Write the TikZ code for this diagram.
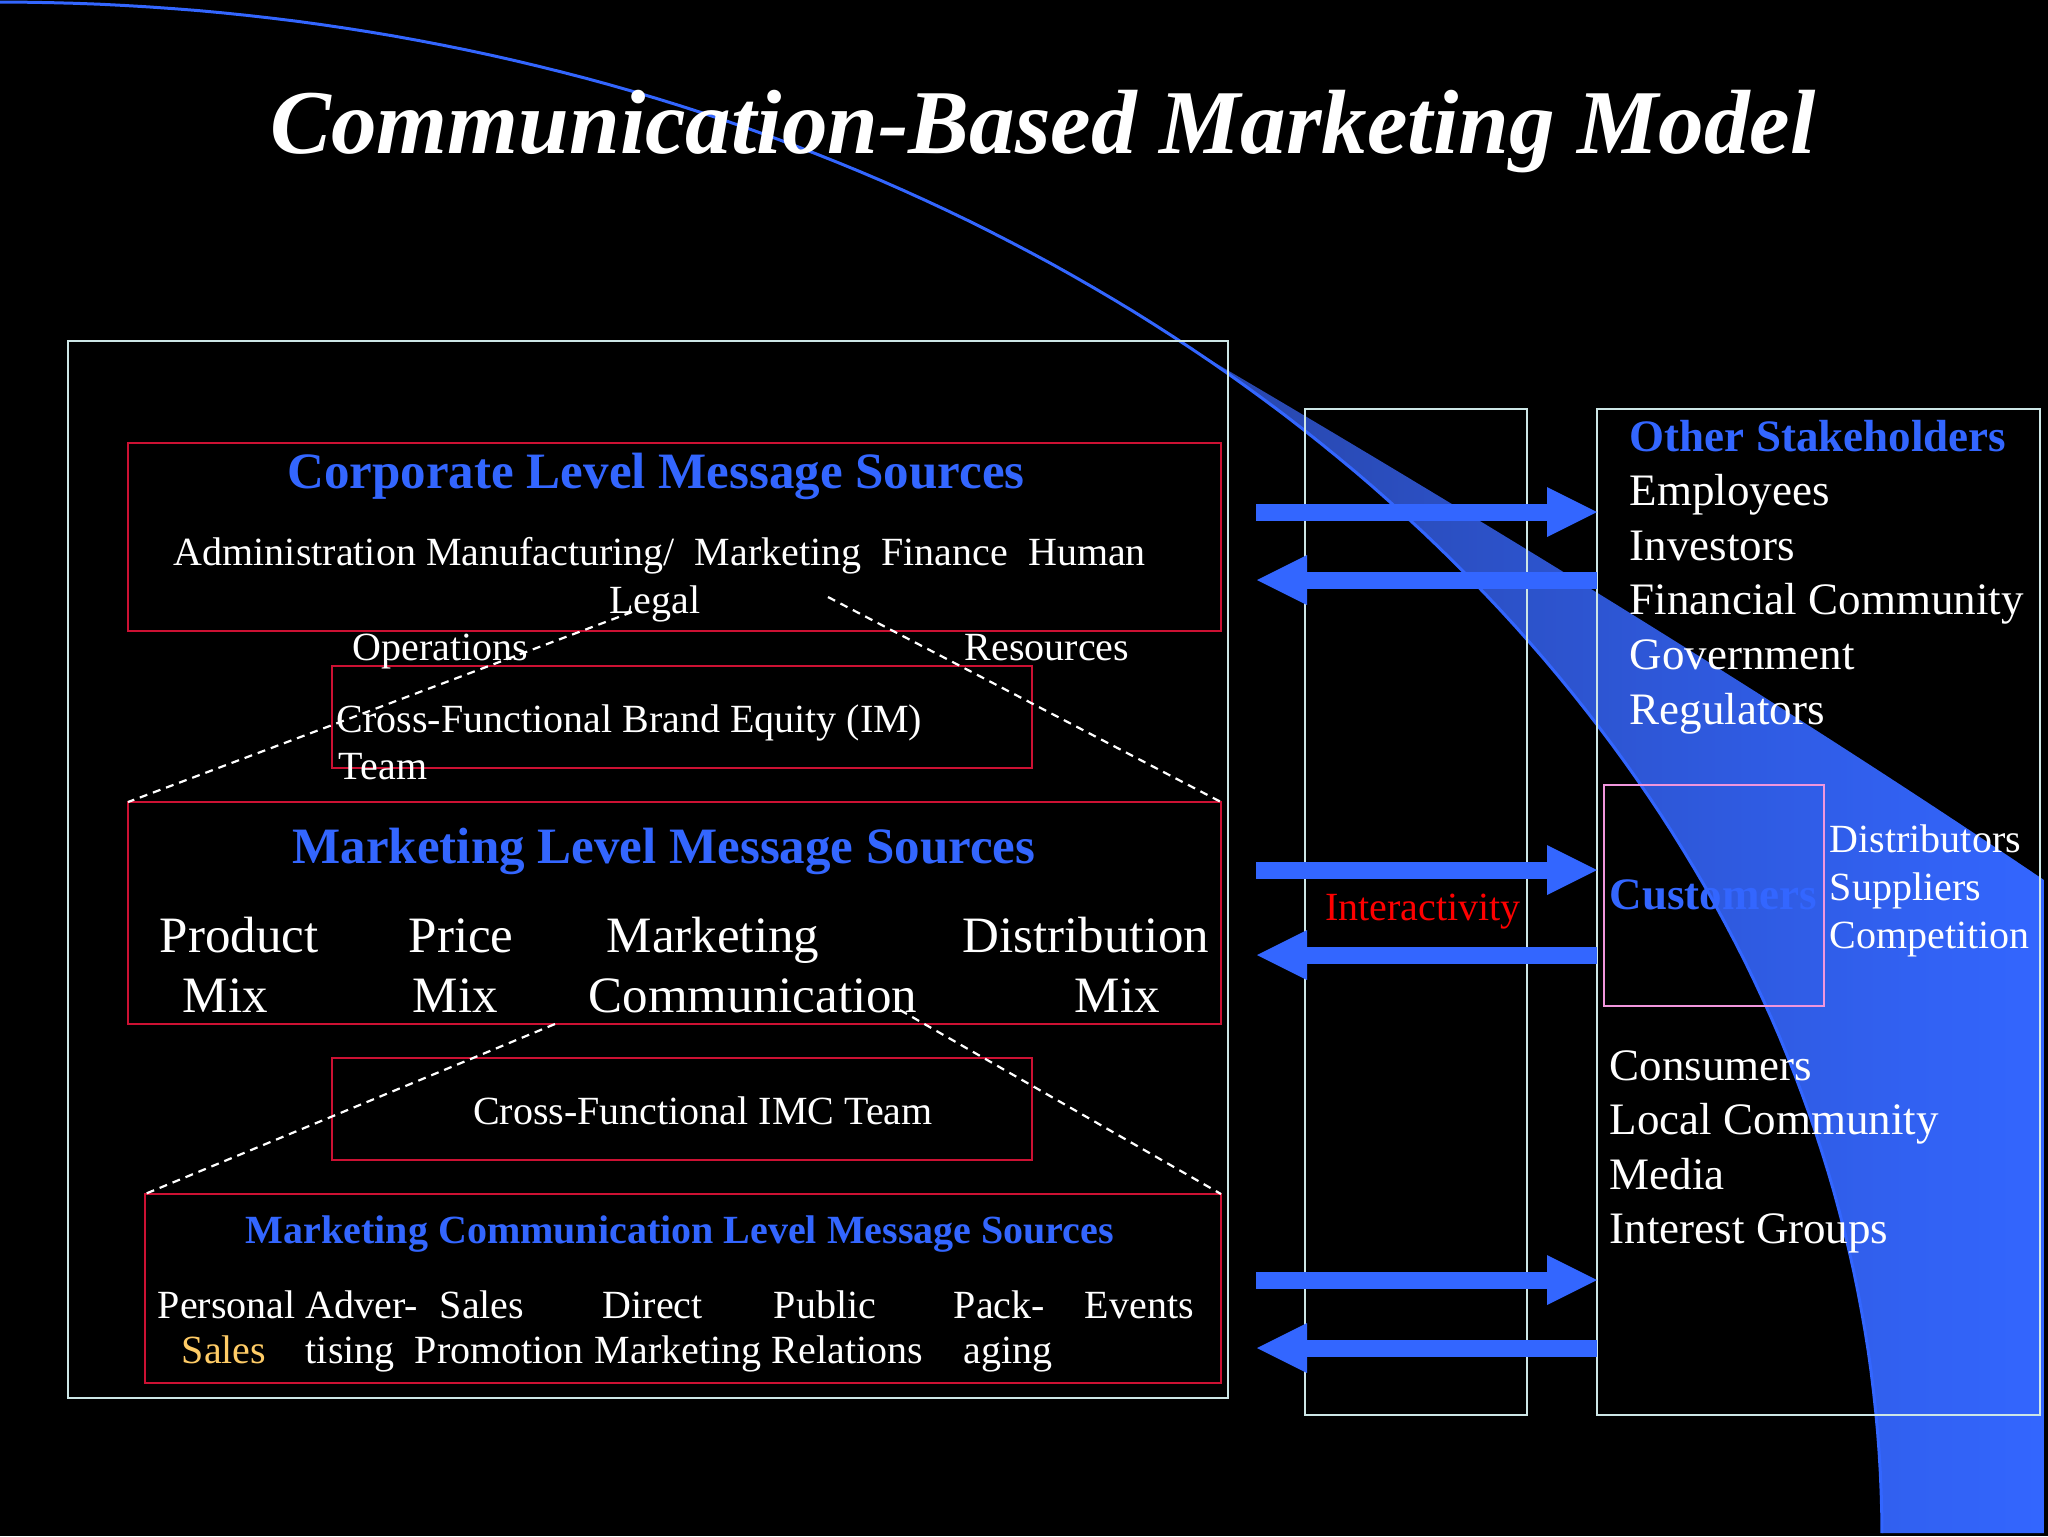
\documentclass[tikz,border=0pt]{standalone}
\usepackage{fontspec}
\setmainfont{Liberation Serif}
\usetikzlibrary{arrows.meta,fit}

\definecolor{hiblue}{RGB}{51,102,255}
\definecolor{bandL}{RGB}{40,70,170}
\definecolor{crimson}{RGB}{204,17,51}
\definecolor{frame}{RGB}{205,230,230}
\definecolor{lilac}{RGB}{240,150,220}
\definecolor{gold}{RGB}{255,204,102}

\tikzset{
  box/.style={draw=frame, line width=0.6pt, inner sep=0pt, outer sep=0pt},
  redbox/.style={draw=crimson, line width=0.7pt, inner sep=0pt, outer sep=0pt},
  txt/.style={text=white, inner sep=0pt, anchor=base west},
  head/.style={text=hiblue, inner sep=0pt, anchor=base},
  sm/.style={font=\fontsize{10}{12}\selectfont},
  md/.style={font=\fontsize{11.25}{13.5}\selectfont},
  lg/.style={font=\fontsize{12.75}{15}\selectfont},
  zoomline/.style={draw=white, line width=0.55pt, dash pattern=on 2pt off 1.5pt},
  flow/.style={hiblue, line width=4.25pt, -{Triangle[length=12.5pt,width=12.5pt,line width=0pt]}}
}

\begin{document}
\begin{tikzpicture}[x=0.25pt,y=-0.25pt]
\fill[black] (0,0) rectangle (2048,1536);
\useasboundingbox (0,0) rectangle (2048,1536);

% swoosh
\fill[left color=bandL, right color=hiblue] (1200,354) .. controls (1500,530) and (1800,715) .. (2044,880)
  -- (2044,1533) -- plot[domain=0.11:50.4, samples=60] ({1882*cos(\x)},{1536-1534*sin(\x)}) -- cycle;
\draw[hiblue, line width=0.75pt] plot[domain=90:0.11, samples=120] ({1882*cos(\x)},{1536-1534*sin(\x)});

\node[text=white, inner sep=0pt, anchor=base, font=\fontsize{22.8}{27}\selectfont\bfseries\itshape] (title) at (1043,153) {Communication-Based Marketing Model};

% frames
\node[box, fit={(68,341) (1228,1398)}] (outer) {};
\node[redbox, fit={(128,443) (1221,631)}] (corp) {};
\node[redbox, fit={(332,666) (1032,768)}] (brand) {};
\node[redbox, fit={(128,802) (1221,1024)}] (mkt) {};
\node[redbox, fit={(332,1058) (1032,1160)}] (imc) {};
\node[redbox, fit={(145,1194) (1221,1383)}] (mcom) {};
\node[box, fit={(1305,409) (1527,1415)}] (inter) {};
\node[box, fit={(1597,409) (2040,1415)}] (stake) {};
\node[draw=lilac, line width=0.6pt, inner sep=0pt, outer sep=0pt, fit={(1604,785) (1824,1006)}] (cust) {};

% corporate level
\node[head, lg] (corpT) at (656,488) {\bfseries Corporate Level Message Sources};
\node[txt, sm] (adm) at (173,565) {Administration Manufacturing/\ \ Marketing\ \ Finance\ \ Human};
\node[txt, sm, anchor=base] (legal) at (655,613) {Legal};
\node[txt, sm] (ops) at (352,660) {Operations};
\node[txt, sm] (res) at (964,660) {Resources};
\node[txt, sm] (brandA) at (336,732) {Cross-Functional Brand Equity (IM)};
\node[txt, sm] (brandB) at (338,779) {Team};
\coordinate (cL) at (632,612);
\coordinate (cR) at (828,597);
\draw[zoomline] (cL) -- (mkt.north west);
\draw[zoomline] (cR) -- (mkt.north east);

% marketing level
\node[head, lg] (mktT) at (664,863) {\bfseries Marketing Level Message Sources};
\foreach \w/\x/\y [count=\i] in {Product/159/952, Mix/182/1012, Price/408/952, Mix/412/1012,
  Marketing/606/952, Communication/588/1012, Distribution/962/952, Mix/1074/1012}
  \node[txt, lg] (mw\i) at (\x,\y) {\w};
\node[txt, sm, anchor=base] (imcT) at (703,1124) {Cross-Functional IMC Team};
\coordinate (mL) at (555,1024);
\coordinate (mR) at (900,1010);
\draw[zoomline] (mL) -- (mcom.north west);
\draw[zoomline] (mR) -- (mcom.north east);

% marcom level
\node[head, sm] (mcomT) at (680,1243) {\bfseries Marketing Communication Level Message Sources};
\foreach \w/\x [count=\i] in {Personal/157, Adver-/305, Sales/439, Direct/602, Public/773, Pack-/953, Events/1084}
  \node[txt, sm] (ma\i) at (\x,1318) {\w};
\node[txt, sm, text=gold] (mb0) at (181,1363) {Sales};
\foreach \w/\x [count=\i] in {tising/305, Promotion/414, Marketing/594, Relations/771, aging/963}
  \node[txt, sm] (mb\i) at (\x,1363) {\w};

% stakeholders
\node[txt, sm, text=red, anchor=base] (interT) at (1423,920) {Interactivity};
\node[head, md, anchor=base west] (otherT) at (1629,451) {\bfseries Other Stakeholders};
\foreach \w [count=\i] in {Employees, Investors, Financial Community, Government, Regulators}
  \node[txt, md] (os\i) at (1629,451+\i*54.6) {\w};
\node[head, md, anchor=base west] (custT) at (1609,909) {\bfseries Customers};
\foreach \w [count=\i] in {Distributors, Suppliers, Competition}
  \node[txt, sm] (cs\i) at (1829,804+\i*48) {\w};
\foreach \w [count=\i] in {Consumers, Local Community, Media, Interest Groups}
  \node[txt, md] (cg\i) at (1609,1025.5+\i*54.5) {\w};

% two-way flows
\foreach \i/\yr/\yl in {1/512/580, 2/870/955, 3/1280/1348} {
  \coordinate (r\i) at (1256,\yr);
  \coordinate (l\i) at (1257,\yl);
  \draw[flow] (r\i) -- (stake.west |- r\i);
  \draw[flow] (stake.west |- l\i) -- (l\i);
}
\end{tikzpicture}
\end{document}
